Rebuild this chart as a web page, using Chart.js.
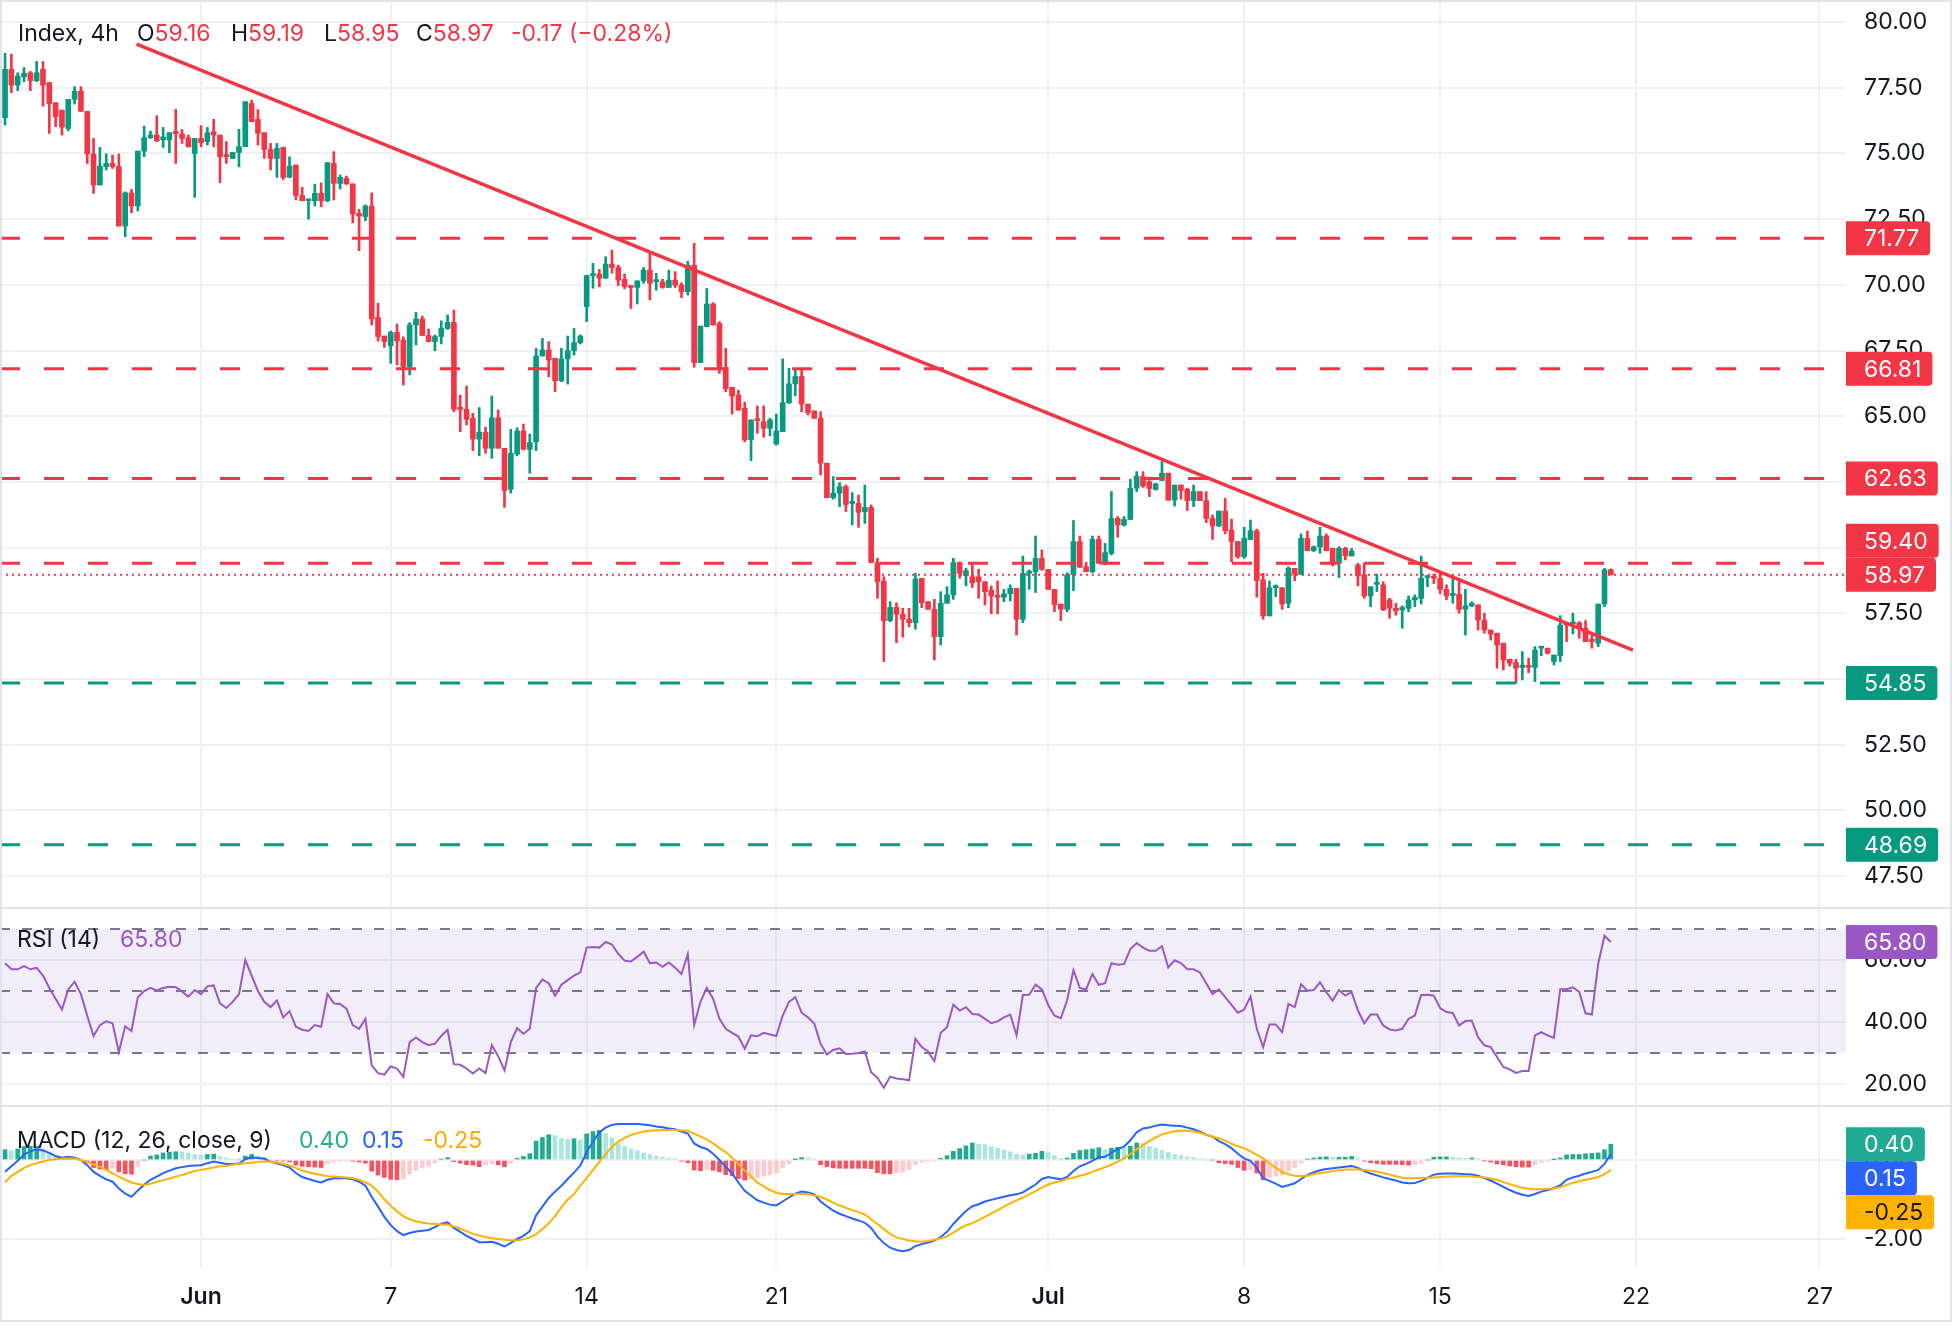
<!DOCTYPE html>
<html>
<head>
<meta charset="utf-8">
<title>Index, 4h</title>
<script src="https://cdn.jsdelivr.net/npm/chart.js@4.4.1/dist/chart.umd.min.js"></script>
<style>
    html, body { margin: 0; padding: 0; background: #ffffff; }
    #frame { position: relative; width: 1952px; height: 1344px; overflow: hidden; font-family: Inter, 'Noto Sans', sans-serif; color: #131722; }
    #frame canvas { position: absolute; left: 0; }
    .box { position: absolute; left: 0; top: 0; width: 1948px; height: 1318px; border: 2px solid #e0e3eb; pointer-events: none; }
    .sep { position: absolute; left: 0; width: 1952px; height: 2px; background: #e0e3eb; }
    .legend { position: absolute; left: 0; width: 900px; height: 28px; font-size: 23px; line-height: 28px; white-space: pre; }
    .legend span { position: absolute; top: 0; }
    .dn { color: #f23645; }
    .rsi { color: #9b58c5; }
    .hist { color: #22ab94; }
    .macd { color: #2962ff; }
    .sig { color: #ffa800; }
</style>
</head>
<body>
<div id="frame">
    <canvas id="priceChart" width="1952" height="907" style="top:0"></canvas>
    <canvas id="rsiChart" width="1952" height="196" style="top:909px"></canvas>
    <canvas id="macdChart" width="1952" height="215" style="top:1107px"></canvas>
    <div class="sep" style="top:907px"></div>
    <div class="sep" style="top:1105px"></div>
    <div class="box"></div>

    <div class="legend" style="top:19px">
        <span style="left:18px">Index, 4h</span>
        <span style="left:137px">O<span class="dn" style="position:static">59.16</span></span>
        <span style="left:231px">H<span class="dn" style="position:static">59.19</span></span>
        <span style="left:324px">L<span class="dn" style="position:static">58.95</span></span>
        <span style="left:416px">C<span class="dn" style="position:static">58.97</span></span>
        <span class="dn" style="left:511px">-0.17 (−0.28%)</span>
    </div>
    <div class="legend" style="top:925px">
        <span style="left:17px">RSI (14)</span>
        <span class="rsi" style="left:120px">65.80</span>
    </div>
    <div class="legend" style="top:1126px">
        <span style="left:17px">MACD (12, 26, close, 9)</span>
        <span class="hist" style="left:299px">0.40</span>
        <span class="macd" style="left:362px">0.15</span>
        <span class="sig" style="left:423px">-0.25</span>
    </div>
</div>

<script>
// ---- data (one entry per 4h candle) ----
const timeTickIdx = [31, 61, 92, 122, 165, 196, 227, 258, 287];
const timeTickLabels = ['Jun', '7', '14', '21', 'Jul', '8', '15', '22', '27'];

const priceTicks = [47.5, 50, 52.5, 55, 57.5, 60, 62.5, 65, 67.5, 70, 72.5, 75, 77.5, 80];
const resistanceLevels = [71.77, 66.81, 62.63, 59.40];
const supportLevels = [54.85, 48.69];
const trendIdx = [20.8, 257.5];
const trendVals = [79.16, 56.10];

const opens = [
    76.36, 78.20, 77.60, 77.92, 78.07, 77.77, 78.20, 77.70, 76.93, 76.65,
    75.95, 77.06, 77.37, 76.60, 74.98, 73.80, 74.50, 74.62, 74.50, 72.24,
    73.50, 73.00, 75.09, 75.60, 75.70, 75.52, 75.51, 75.80, 75.74, 75.60,
    75.00, 75.57, 75.45, 75.83, 75.70, 74.94, 74.81, 75.04, 75.26, 76.90,
    76.30, 75.79, 75.15, 74.81, 75.23, 74.09, 74.56, 73.40, 73.20, 73.20,
    73.48, 73.20, 74.62, 73.86, 74.05, 73.84, 72.72, 72.60, 73.00, 68.76,
    68.05, 67.68, 68.19, 67.90, 66.89, 68.47, 68.70, 68.07, 67.84, 68.03,
    68.34, 68.57, 65.32, 65.26, 64.92, 64.13, 64.39, 63.78, 64.94, 63.78,
    62.22, 63.56, 64.44, 63.74, 64.03, 67.29, 67.52, 67.20, 66.35, 67.18,
    67.50, 67.80, 69.17, 70.35, 70.41, 70.25, 70.79, 70.66, 70.21, 69.97,
    69.90, 70.15, 70.56, 70.12, 70.12, 69.90, 70.18, 69.99, 69.74, 70.75,
    67.04, 68.41, 69.27, 68.53, 66.86, 66.10, 65.80, 65.30, 64.10, 64.90,
    64.79, 64.54, 63.94, 64.41, 65.51, 66.23, 66.51, 65.46, 65.20, 64.92,
    63.21, 61.90, 62.07, 62.32, 61.68, 61.68, 61.37, 61.53, 59.43, 58.73,
    57.22, 57.72, 57.46, 57.27, 57.14, 58.83, 57.94, 57.65, 56.61, 57.88,
    58.20, 59.43, 58.93, 58.89, 58.89, 58.70, 58.38, 58.16, 58.11, 58.24,
    58.45, 57.27, 59.02, 59.08, 59.59, 59.17, 58.41, 57.85, 57.65, 58.96,
    60.23, 59.27, 59.08, 60.31, 59.40, 59.78, 61.11, 60.86, 61.07, 62.26,
    62.70, 62.51, 62.21, 62.55, 62.83, 61.81, 62.38, 62.22, 61.79, 62.13,
    61.79, 61.11, 60.82, 61.39, 60.67, 60.23, 59.65, 60.30, 60.64, 58.77,
    57.40, 58.47, 58.47, 57.88, 59.21, 58.99, 60.35, 59.88, 60.03, 60.44,
    59.97, 59.40, 59.97, 59.68, 59.33, 58.96, 58.16, 58.60, 58.58, 58.01,
    57.69, 57.63, 57.69, 58.01, 58.07, 58.86, 58.90, 58.83, 58.41, 58.18,
    58.22, 57.65, 57.78, 57.82, 57.24, 56.86, 56.74, 56.36, 55.75, 55.62,
    55.44, 55.49, 55.44, 56.17, 56.17, 55.66, 55.89, 57.09, 57.09, 57.14,
    56.93, 56.51, 56.36, 57.85, 59.16
];
const highs = [
    78.81, 78.78, 78.07, 78.27, 78.12, 78.50, 78.50, 77.70, 76.93, 76.65,
    77.06, 77.54, 77.54, 76.60, 75.57, 75.23, 74.99, 74.94, 74.98, 73.54,
    73.63, 75.09, 76.04, 75.85, 76.44, 75.99, 75.79, 76.68, 75.91, 75.70,
    75.57, 76.06, 75.99, 76.30, 75.70, 75.45, 75.04, 75.92, 76.97, 77.03,
    76.67, 75.79, 75.38, 75.38, 75.23, 74.87, 74.56, 73.71, 73.25, 73.83,
    73.88, 74.65, 75.07, 74.18, 74.14, 73.84, 72.87, 73.04, 73.50, 69.30,
    68.05, 68.24, 68.51, 68.02, 68.56, 68.95, 68.81, 68.32, 68.09, 68.63,
    68.85, 69.04, 65.80, 66.15, 65.11, 65.33, 64.58, 65.77, 65.24, 63.78,
    64.50, 64.56, 64.70, 64.32, 67.58, 67.96, 67.84, 67.20, 67.58, 68.05,
    68.34, 68.09, 70.37, 70.82, 70.59, 71.07, 71.32, 70.75, 70.41, 69.97,
    70.15, 70.66, 71.20, 70.44, 70.21, 70.56, 70.50, 70.08, 70.90, 71.58,
    68.43, 69.86, 69.32, 68.60, 67.58, 66.10, 65.99, 65.53, 64.86, 65.39,
    65.39, 64.92, 65.08, 67.18, 66.82, 66.82, 66.82, 65.46, 65.20, 65.17,
    63.21, 62.70, 62.47, 62.38, 62.09, 62.00, 62.38, 61.62, 59.59, 58.89,
    57.94, 57.90, 57.69, 57.69, 59.02, 58.83, 57.94, 58.03, 58.32, 58.51,
    59.59, 59.46, 59.21, 59.40, 59.17, 58.70, 58.54, 58.73, 58.41, 58.58,
    58.45, 59.68, 59.15, 60.44, 59.91, 59.17, 58.41, 57.85, 59.04, 61.03,
    60.44, 59.44, 60.44, 60.44, 60.16, 62.13, 61.18, 61.18, 62.60, 62.89,
    62.89, 62.55, 62.45, 63.27, 62.83, 62.38, 62.38, 62.26, 62.38, 62.13,
    62.13, 61.24, 61.39, 61.87, 61.08, 60.23, 60.77, 61.05, 60.70, 59.02,
    58.73, 58.58, 58.47, 59.27, 59.21, 60.52, 60.63, 60.06, 60.77, 60.52,
    59.97, 60.04, 60.01, 59.97, 59.40, 59.40, 58.51, 58.99, 58.70, 58.07,
    57.88, 57.78, 58.16, 58.20, 59.68, 58.90, 58.99, 59.02, 58.58, 58.83,
    58.83, 58.41, 57.94, 57.82, 57.50, 56.86, 56.74, 56.36, 55.75, 55.75,
    56.04, 55.79, 56.23, 56.20, 56.17, 55.91, 57.41, 57.09, 57.50, 57.18,
    57.22, 56.74, 57.85, 59.21, 59.19
];
const lows = [
    76.08, 77.31, 77.39, 77.73, 77.39, 77.73, 76.80, 75.76, 76.02, 75.70,
    75.86, 76.88, 76.60, 74.62, 73.48, 73.80, 74.37, 74.43, 72.24, 71.83,
    72.74, 72.81, 74.88, 75.57, 75.45, 75.23, 75.03, 74.62, 75.38, 75.25,
    73.33, 75.25, 75.32, 75.25, 73.89, 74.62, 74.81, 74.49, 75.26, 76.21,
    75.32, 74.81, 74.37, 74.09, 74.01, 74.09, 73.23, 73.20, 72.50, 73.00,
    72.97, 73.16, 73.23, 73.65, 73.82, 72.36, 71.30, 72.44, 68.47, 67.86,
    67.62, 67.01, 66.95, 66.19, 66.57, 67.71, 68.07, 67.84, 67.49, 67.75,
    68.30, 65.17, 64.41, 64.67, 63.69, 63.50, 63.59, 63.40, 63.78, 61.53,
    62.07, 63.49, 63.71, 62.83, 63.69, 67.29, 66.50, 65.93, 66.31, 66.22,
    67.33, 67.75, 68.60, 69.87, 69.93, 70.25, 70.44, 69.97, 69.85, 69.10,
    69.27, 70.06, 69.42, 69.80, 69.87, 69.90, 69.90, 69.51, 69.61, 66.86,
    67.04, 68.41, 68.47, 66.63, 65.93, 65.08, 65.23, 64.03, 63.31, 64.35,
    64.20, 64.25, 63.90, 64.41, 65.48, 65.77, 65.17, 65.05, 64.92, 62.76,
    61.90, 61.84, 61.56, 61.37, 60.86, 60.77, 60.92, 59.43, 58.07, 55.66,
    57.18, 56.38, 56.59, 56.99, 56.89, 57.71, 57.65, 55.72, 56.29, 57.88,
    58.03, 58.83, 58.54, 58.48, 58.07, 57.82, 57.48, 57.48, 57.94, 57.97,
    56.67, 57.14, 58.41, 58.29, 59.14, 58.41, 57.56, 57.22, 57.56, 58.36,
    59.25, 59.08, 59.04, 59.40, 59.34, 59.72, 60.39, 60.82, 61.07, 62.13,
    62.29, 61.94, 62.19, 62.55, 61.79, 61.58, 61.84, 61.41, 61.56, 61.79,
    60.95, 60.31, 60.80, 60.52, 59.46, 59.59, 59.59, 60.29, 58.11, 57.27,
    57.40, 58.13, 57.65, 57.71, 58.74, 58.96, 59.88, 59.85, 59.78, 59.88,
    59.30, 58.86, 59.53, 59.68, 58.54, 58.07, 57.75, 58.32, 57.60, 57.31,
    57.43, 56.93, 57.56, 57.75, 57.85, 58.51, 58.63, 58.24, 58.01, 57.88,
    57.50, 56.67, 57.75, 56.86, 56.74, 56.48, 55.41, 55.34, 55.49, 54.84,
    54.96, 55.24, 54.90, 55.88, 55.95, 55.53, 55.66, 56.42, 56.71, 56.55,
    56.42, 56.17, 56.23, 57.75, 58.95
];
const closes = [
    78.20, 77.60, 77.95, 78.05, 77.77, 78.07, 77.60, 76.90, 76.40, 76.00,
    77.06, 77.37, 76.60, 74.98, 73.80, 74.52, 74.62, 74.50, 72.24, 73.50,
    73.00, 75.09, 75.60, 75.70, 75.48, 75.63, 75.79, 75.76, 75.57, 75.25,
    75.57, 75.41, 75.79, 75.70, 74.88, 74.88, 75.04, 75.26, 76.97, 76.21,
    75.77, 75.15, 74.81, 75.19, 74.09, 74.52, 73.40, 73.20, 73.25, 73.48,
    73.20, 74.65, 73.86, 74.09, 73.84, 72.69, 72.62, 73.00, 68.70, 68.03,
    67.84, 68.19, 67.87, 66.89, 68.47, 68.70, 68.07, 67.84, 68.03, 68.34,
    68.57, 65.26, 65.26, 64.88, 64.13, 64.39, 63.78, 64.94, 63.78, 62.17,
    63.59, 64.44, 63.74, 64.00, 67.29, 67.52, 67.14, 66.35, 67.18, 67.50,
    67.80, 68.05, 70.35, 70.41, 70.25, 70.79, 70.66, 70.18, 69.93, 69.90,
    70.15, 70.56, 70.06, 70.18, 69.90, 70.18, 69.99, 69.74, 70.75, 67.04,
    68.43, 69.27, 68.47, 66.86, 66.04, 65.77, 65.23, 64.10, 64.86, 64.83,
    64.54, 64.86, 64.44, 65.51, 66.23, 66.51, 65.46, 65.13, 64.92, 63.21,
    61.90, 62.07, 62.32, 61.64, 61.71, 61.34, 61.53, 59.43, 58.70, 57.22,
    57.72, 57.46, 57.27, 57.14, 58.80, 57.90, 57.65, 56.61, 57.88, 58.20,
    59.43, 59.02, 59.12, 58.66, 58.70, 58.32, 58.16, 58.11, 58.24, 58.45,
    57.27, 59.02, 59.08, 59.59, 59.17, 58.41, 57.82, 57.65, 58.96, 60.23,
    59.25, 59.08, 60.31, 59.40, 59.81, 61.11, 60.86, 61.07, 62.26, 62.72,
    62.34, 62.25, 62.42, 62.83, 61.81, 62.38, 62.17, 61.79, 62.13, 61.79,
    61.11, 60.82, 61.39, 60.64, 60.23, 59.65, 60.35, 60.64, 58.74, 57.40,
    58.47, 58.51, 57.85, 59.21, 58.99, 60.35, 59.88, 60.03, 60.44, 59.88,
    59.40, 59.97, 59.68, 59.87, 58.92, 58.16, 58.51, 58.62, 57.63, 57.69,
    57.59, 57.72, 58.01, 58.10, 58.83, 58.90, 58.83, 58.41, 58.16, 58.22,
    57.65, 57.78, 57.88, 57.24, 56.86, 56.71, 56.29, 55.72, 55.60, 55.41,
    55.49, 55.44, 56.10, 56.20, 55.98, 55.91, 57.05, 57.05, 57.14, 56.93,
    56.42, 56.42, 57.85, 59.15, 58.97
];

const rsiValues = [
    59, 57, 57, 58, 57, 57.5, 55, 51, 47.5, 44,
    50.5, 53, 49, 42, 35.5, 39, 40.2, 39.6, 30.3, 38.6,
    37.1, 48, 50, 51, 50.2, 51, 51.4, 51.2, 49.8, 48.2,
    50.3, 49, 51.5, 51.8, 46, 44.5, 46.5, 49, 60, 55,
    50, 46.5, 44.8, 47, 41.5, 43.5, 38.5, 37.5, 37.1, 39,
    38.5, 49, 46, 45.8, 44.3, 39, 37.8, 41, 26, 23.5,
    23, 25.7, 25, 22.3, 33.5, 35, 33.5, 32.5, 33, 35.5,
    37.5, 26.4, 26.2, 25, 23.4, 25, 23.5, 32.5, 29, 24.4,
    33.5, 38, 36.2, 37.8, 51, 53.7, 52.5, 48.5, 52, 53.5,
    55, 56, 64, 64.2, 64, 65.8, 65, 62, 59.8, 59.5,
    61, 62.7, 59, 59.2, 57.8, 59.2, 57.5, 55.5, 61.9, 39,
    46.5, 51, 47.5, 41, 37.8, 36.5, 35.3, 31.4, 35.7, 35.4,
    36.5, 36, 35.5, 42, 46.5, 48, 43, 41.5, 39.5, 33,
    29.5, 31, 31.5, 29.7, 29.8, 30, 30.5, 23.8, 22, 18.8,
    22.4, 21.8, 21.5, 21.2, 34.6, 31.9, 30.5, 27.4, 36.5, 38.3,
    45.6, 43.7, 44.8, 42.6, 42.4, 41, 39.6, 40.2, 41.5, 42.4,
    35.7, 48.7, 48.8, 52, 50.5, 45.5, 42, 41.2, 47, 56.7,
    51, 50.5, 55.5, 52, 52.5, 59, 58.5, 58.7, 63.5, 65.5,
    64, 63, 63, 64.5, 57.6, 59.9, 59, 57, 57, 56,
    52.5, 49, 50.5, 48, 45.5, 43, 44, 48.2, 37.8, 31.9,
    39.2, 39.2, 36.7, 45.8, 44.8, 52.2, 50.1, 50.3, 52.8, 49.6,
    46.9, 50.3, 48.5, 49.6, 43.7, 39.6, 42.4, 42.4, 38.9, 37.6,
    37.3, 37.8, 41, 42.1, 48.7, 48.8, 48.5, 44.5, 43.2, 42.9,
    38.9, 40.3, 40.5, 35.1, 32.5, 31.9, 28.7, 25.5, 24.7, 23.6,
    24.2, 24.2, 35.7, 36.7, 35.7, 34.9, 50.6, 50.6, 51.2, 49.7,
    42.8, 42.4, 58.7, 67.8, 65.8
];
const rsiLevels = [70, 50, 30];
const rsiTicks = [20, 40, 60];

const macdLine = [
    -0.30, -0.16, -0.02, 0.14, 0.22, 0.27, 0.24, 0.18, 0.10, 0.06,
    0.08, 0.06, 0.00, -0.13, -0.30, -0.40, -0.49, -0.55, -0.72, -0.85,
    -0.93, -0.77, -0.63, -0.50, -0.42, -0.33, -0.27, -0.21, -0.18, -0.15,
    -0.14, -0.13, -0.08, -0.04, -0.07, -0.10, -0.10, -0.09, 0.02, 0.07,
    0.05, 0.03, -0.04, -0.09, -0.13, -0.19, -0.33, -0.43, -0.48, -0.53,
    -0.57, -0.50, -0.46, -0.46, -0.46, -0.49, -0.55, -0.65, -0.93, -1.18,
    -1.44, -1.65, -1.80, -1.90, -1.85, -1.81, -1.79, -1.77, -1.70, -1.61,
    -1.58, -1.72, -1.82, -1.92, -2.00, -2.08, -2.08, -2.07, -2.12, -2.19,
    -2.10, -2.00, -1.92, -1.80, -1.40, -1.18, -0.96, -0.80, -0.65, -0.48,
    -0.32, -0.14, 0.20, 0.47, 0.70, 0.82, 0.89, 0.91, 0.91, 0.91,
    0.91, 0.90, 0.88, 0.85, 0.83, 0.80, 0.78, 0.72, 0.67, 0.42,
    0.33, 0.28, 0.16, 0.00, -0.17, -0.34, -0.57, -0.78, -0.90, -1.02,
    -1.08, -1.13, -1.15, -1.05, -0.95, -0.85, -0.80, -0.82, -0.87, -1.05,
    -1.17, -1.28, -1.36, -1.42, -1.48, -1.53, -1.59, -1.72, -1.94, -2.10,
    -2.22, -2.28, -2.31, -2.28, -2.18, -2.13, -2.09, -2.04, -1.95, -1.82,
    -1.62, -1.45, -1.29, -1.17, -1.12, -1.05, -1.01, -0.97, -0.93, -0.89,
    -0.87, -0.82, -0.72, -0.62, -0.48, -0.43, -0.46, -0.49, -0.43, -0.28,
    -0.16, -0.10, -0.02, 0.07, 0.08, 0.18, 0.28, 0.34, 0.50, 0.70,
    0.80, 0.82, 0.87, 0.90, 0.88, 0.87, 0.86, 0.82, 0.78, 0.72,
    0.64, 0.59, 0.48, 0.40, 0.30, 0.16, 0.04, -0.02, -0.20, -0.46,
    -0.53, -0.60, -0.68, -0.64, -0.59, -0.48, -0.38, -0.31, -0.26, -0.23,
    -0.21, -0.19, -0.17, -0.15, -0.20, -0.28, -0.34, -0.39, -0.44, -0.48,
    -0.52, -0.57, -0.59, -0.58, -0.53, -0.45, -0.37, -0.35, -0.34, -0.34,
    -0.35, -0.36, -0.37, -0.40, -0.46, -0.52, -0.60, -0.68, -0.76, -0.83,
    -0.88, -0.91, -0.86, -0.80, -0.76, -0.71, -0.64, -0.50, -0.44, -0.40,
    -0.34, -0.30, -0.25, -0.10, 0.15
];
const signalLine = [
    -0.56, -0.40, -0.30, -0.20, -0.13, -0.08, -0.04, 0.00, 0.02, 0.03,
    0.04, 0.03, 0.00, -0.05, -0.11, -0.17, -0.25, -0.34, -0.42, -0.50,
    -0.57, -0.61, -0.63, -0.60, -0.55, -0.51, -0.47, -0.42, -0.38, -0.33,
    -0.28, -0.25, -0.22, -0.19, -0.16, -0.15, -0.12, -0.10, -0.08, -0.07,
    -0.05, -0.04, -0.04, -0.07, -0.10, -0.14, -0.20, -0.27, -0.31, -0.35,
    -0.38, -0.41, -0.42, -0.43, -0.44, -0.46, -0.50, -0.57, -0.65, -0.80,
    -1.00, -1.16, -1.30, -1.42, -1.50, -1.55, -1.59, -1.61, -1.62, -1.63,
    -1.64, -1.68, -1.74, -1.80, -1.87, -1.91, -1.95, -1.98, -2.00, -2.02,
    -2.03, -2.04, -2.01, -1.96, -1.88, -1.75, -1.60, -1.42, -1.20, -1.00,
    -0.86, -0.65, -0.46, -0.25, -0.05, 0.15, 0.33, 0.47, 0.56, 0.63,
    0.68, 0.72, 0.74, 0.75, 0.76, 0.76, 0.76, 0.75, 0.74, 0.67,
    0.60, 0.52, 0.42, 0.30, 0.20, 0.06, -0.10, -0.27, -0.42, -0.57,
    -0.67, -0.76, -0.83, -0.86, -0.86, -0.86, -0.86, -0.87, -0.90, -0.93,
    -1.00, -1.08, -1.15, -1.21, -1.27, -1.32, -1.38, -1.50, -1.62, -1.75,
    -1.87, -1.96, -2.00, -2.04, -2.06, -2.07, -2.05, -2.02, -1.99, -1.93,
    -1.84, -1.74, -1.65, -1.60, -1.52, -1.44, -1.35, -1.27, -1.18, -1.10,
    -1.02, -0.95, -0.87, -0.79, -0.70, -0.62, -0.57, -0.53, -0.48, -0.45,
    -0.40, -0.36, -0.30, -0.24, -0.18, -0.12, -0.04, 0.04, 0.15, 0.27,
    0.38, 0.48, 0.57, 0.65, 0.69, 0.73, 0.74, 0.74, 0.72, 0.69,
    0.64, 0.59, 0.55, 0.49, 0.41, 0.35, 0.30, 0.22, 0.13, 0.04,
    -0.09, -0.20, -0.30, -0.36, -0.40, -0.41, -0.40, -0.36, -0.33, -0.31,
    -0.28, -0.26, -0.24, -0.24, -0.24, -0.25, -0.27, -0.30, -0.33, -0.37,
    -0.41, -0.45, -0.46, -0.46, -0.45, -0.45, -0.44, -0.43, -0.42, -0.41,
    -0.41, -0.41, -0.42, -0.43, -0.44, -0.47, -0.50, -0.56, -0.61, -0.66,
    -0.70, -0.73, -0.74, -0.74, -0.73, -0.72, -0.69, -0.63, -0.58, -0.54,
    -0.50, -0.47, -0.43, -0.36, -0.25
];
const macdTicks = [0, -2];

// ---- look ----
const FONT = 'Inter';
const TEXT = '#131722';
const GRID = '#f0f1f4';
const UP = '#089981';
const DOWN = '#f23645';
const RSI_COLOR = '#9b58c5';
const MACD_COLOR = '#2962ff';
const SIGNAL_COLOR = '#ffb300';
const AXIS_WIDTH = 106;
const xMin = -0.8;
const xMax = 291.2;

Chart.defaults.font.family = FONT;
Chart.defaults.color = TEXT;

// price tags on the right scale, pushed apart so they do not overlap
const badgePlugin = {
    id: 'badges',
    afterDraw(chart, args, opts) {
        const items = opts.items || [];
        if (!items.length) return;
        const { ctx, chartArea } = chart;
        const y = chart.scales.y;
        const h = 34;
        const ys = items.map(it => y.getPixelForValue(it.value));
        const a = opts.anchor || 0;
        for (let k = a + 1; k < ys.length; k++) ys[k] = Math.max(ys[k], ys[k - 1] + h);
        for (let k = a - 1; k >= 0; k--) ys[k] = Math.min(ys[k], ys[k + 1] - h);

        ctx.save();
        ctx.font = `23px ${FONT}`;
        ctx.textBaseline = 'middle';
        ctx.textAlign = 'left';
        items.forEach((it, k) => {
            const label = it.value.toFixed(2);
            const w = 18 + ctx.measureText(label).width + 11;
            ctx.fillStyle = it.color;
            ctx.beginPath();
            ctx.roundRect(chartArea.right, ys[k] - h / 2, w, h, [0, 4, 4, 0]);
            ctx.fill();
            ctx.fillStyle = it.text || '#ffffff';
            ctx.fillText(label, chartArea.right + 18, ys[k] + 1);
        });
        ctx.restore();
    }
};

function xScale(axisHeight) {
    return {
        type: 'linear',
        min: xMin,
        max: xMax,
        offset: false,
        afterBuildTicks: s => { s.ticks = timeTickIdx.map(v => ({ value: v })); },
        afterFit: s => {
            s.height = axisHeight;
            s.paddingLeft = 0;
            s.paddingRight = 0;
        },
        grid: { color: GRID, lineWidth: 2, drawTicks: false, offset: false },
        border: { display: false },
        ticks: {
            display: axisHeight > 0,
            autoSkip: false,
            maxRotation: 0,
            minRotation: 0,
            padding: 16,
            color: TEXT,
            callback: (v, i) => timeTickLabels[i],
            font: c => ({ family: FONT, size: 23, weight: /[A-Za-z]/.test(timeTickLabels[c.index] || '') ? '600' : '400' })
        }
    };
}

function yScale(min, max, ticks) {
    return {
        position: 'right',
        min,
        max,
        afterBuildTicks: s => { s.ticks = ticks.map(v => ({ value: v })); },
        afterFit: s => {
            s.width = AXIS_WIDTH;
            s.paddingTop = 0;
            s.paddingBottom = 0;
        },
        grid: { color: GRID, lineWidth: 2, drawTicks: false },
        border: { display: false },
        ticks: { padding: 18, color: TEXT, font: { family: FONT, size: 23 }, callback: v => v.toFixed(2) }
    };
}

function flatLine(value, color, dash, width, extra = {}) {
    return {
        type: 'line',
        data: [{ x: xMin, y: value }, { x: xMax, y: value }],
        borderColor: color,
        borderWidth: width,
        borderDash: dash,
        pointRadius: 0,
        fill: false,
        order: 0,
        ...extra
    };
}

function baseOptions(scales, badges) {
    return {
        responsive: false,
        animation: false,
        devicePixelRatio: 1,
        events: [],
        layout: { padding: 0, autoPadding: false },
        scales,
        plugins: { legend: { display: false }, tooltip: { enabled: false }, badges }
    };
}

function createPriceChart() {
    const idx = closes.map((_, i) => i);
    const colors = closes.map((c, i) => (c >= opens[i] ? UP : DOWN));
    const lastClose = closes[closes.length - 1];

    const datasets = [
        ...resistanceLevels.map(v => flatLine(v, DOWN, [20, 24], 3)),
        ...supportLevels.map(v => flatLine(v, UP, [20, 24], 3)),
        flatLine(lastClose, DOWN, [2, 4], 2),
        {
            type: 'line',
            data: trendIdx.map((x, i) => ({ x, y: trendVals[i] })),
            borderColor: DOWN,
            borderWidth: 3.5,
            pointRadius: 0,
            fill: false,
            order: 0
        },
        {
            type: 'bar',
            data: idx.map(i => ({ x: i, y: [opens[i], closes[i]] })),
            backgroundColor: colors,
            barThickness: 5,
            minBarLength: 2,
            grouped: false,
            borderWidth: 0,
            order: 2
        },
        {
            type: 'bar',
            data: idx.map(i => ({ x: i, y: [lows[i], highs[i]] })),
            backgroundColor: colors,
            barThickness: 2,
            grouped: false,
            borderWidth: 0,
            order: 3
        }
    ];

    const badges = {
        anchor: resistanceLevels.length,
        items: [
            ...resistanceLevels.map(v => ({ value: v, color: DOWN })),
            { value: lastClose, color: DOWN },
            ...supportLevels.map(v => ({ value: v, color: UP }))
        ]
    };

    new Chart(document.getElementById('priceChart'), {
        type: 'bar',
        data: { datasets },
        options: baseOptions({ x: xScale(0), y: yScale(46.32, 80.84, priceTicks) }, badges),
        plugins: [badgePlugin]
    });
}

function createRsiChart() {
    const datasets = [
        flatLine(rsiLevels[0], '#787b86', [10, 12], 2, { fill: { value: rsiLevels[2] }, backgroundColor: 'rgba(126, 87, 194, 0.1)', order: 2 }),
        flatLine(rsiLevels[1], '#787b86', [10, 12], 2, { order: 2 }),
        flatLine(rsiLevels[2], '#787b86', [10, 12], 2, { order: 2 }),
        {
            type: 'line',
            data: rsiValues.map((v, i) => ({ x: i, y: v })),
            borderColor: RSI_COLOR,
            borderWidth: 2,
            pointRadius: 0,
            fill: false,
            order: 0
        }
    ];

    new Chart(document.getElementById('rsiChart'), {
        type: 'line',
        data: { datasets },
        options: baseOptions(
            { x: xScale(0), y: yScale(13.23, 76.45, rsiTicks) },
            { anchor: 0, items: [{ value: rsiValues[rsiValues.length - 1], color: RSI_COLOR }] }
        ),
        plugins: [badgePlugin]
    });
}

function createMacdChart() {
    const histogram = macdLine.map((v, i) => +(v - signalLine[i]).toFixed(2));
    const histColors = histogram.map((h, i) => {
        const prev = i > 0 ? histogram[i - 1] : h;
        if (h >= 0) return h >= prev ? '#22ab94' : '#ace5dc';
        return h <= prev ? '#f7525f' : '#fccbcd';
    });
    const last = macdLine.length - 1;

    const datasets = [
        {
            type: 'line',
            data: signalLine.map((v, i) => ({ x: i, y: v })),
            borderColor: SIGNAL_COLOR,
            borderWidth: 2,
            pointRadius: 0,
            fill: false,
            order: 0
        },
        {
            type: 'line',
            data: macdLine.map((v, i) => ({ x: i, y: v })),
            borderColor: MACD_COLOR,
            borderWidth: 2,
            pointRadius: 0,
            fill: false,
            order: 1
        },
        {
            type: 'bar',
            data: histogram.map((v, i) => ({ x: i, y: v })),
            backgroundColor: histColors,
            barThickness: 4,
            grouped: false,
            borderWidth: 0,
            order: 2
        }
    ];

    const badges = {
        anchor: 0,
        items: [
            { value: histogram[last], color: '#22ab94' },
            { value: macdLine[last], color: MACD_COLOR },
            { value: signalLine[last], color: SIGNAL_COLOR, text: TEXT }
        ]
    };

    new Chart(document.getElementById('macdChart'), {
        type: 'bar',
        data: { datasets },
        options: baseOptions({ x: xScale(55), y: yScale(-2.709, 1.342, macdTicks) }, badges),
        plugins: [badgePlugin]
    });
}

createPriceChart();
createRsiChart();
createMacdChart();
</script>
</body>
</html>
